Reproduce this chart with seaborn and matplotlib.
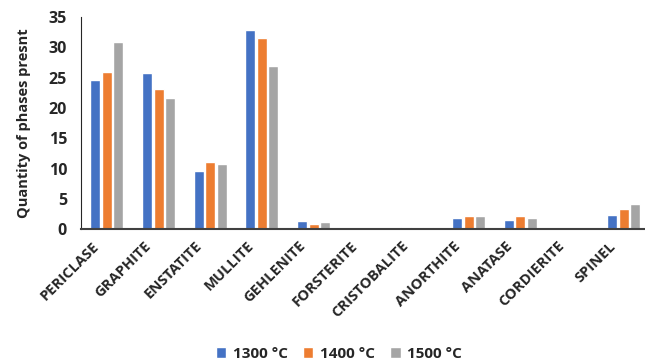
import numpy as np
import pandas as pd
import matplotlib
matplotlib.use("Agg")
import matplotlib.pyplot as plt
import matplotlib.transforms as mtransforms
import seaborn as sns

phases = ["PERICLASE", "GRAPHITE", "ENSTATITE", "MULLITE", "GEHLENITE", "FORSTERITE",
          "CRISTOBALITE", "ANORTHITE", "ANATASE", "CORDIERITE", "SPINEL"]
temps = ["1300 °C", "1400 °C", "1500 °C"]
vals_1300 = [24.6, 25.7, 9.6, 32.8, 1.3, 0.0, 0.3, 1.8, 1.5, 0.0, 2.3]
vals_1400 = [26.0, 23.2, 11.1, 31.6, 0.8, 0.0, 0.0, 2.1, 2.1, 0.0, 3.3]
vals_1500 = [30.9, 21.7, 10.8, 26.9, 1.2, 0.0, 0.4, 2.1, 1.8, 0.0, 4.1]
colors = ["#4472C4", "#ED7D31", "#A5A5A5"]

df = pd.DataFrame({
    "phase": phases * 3,
    "temp": [temps[0]] * 11 + [temps[1]] * 11 + [temps[2]] * 11,
    "value": vals_1300 + vals_1400 + vals_1500,
})

sns.set_style("white")
plt.rcParams["font.family"] = ["Open Sans", "DejaVu Sans"]

fig = plt.figure(figsize=(6.45, 3.62), dpi=100)
ax = fig.add_axes([0.1256, 0.367, 0.874, 0.586])

sns.barplot(data=df, x="phase", y="value", hue="temp", palette=colors,
            width=0.66, gap=0.12, ax=ax, saturation=1)

ax.set_ylim(0, 35)
ax.set_xlim(-0.5, 10.41)
ax.set_yticks(range(0, 36, 5))
ax.set_xlabel("")
ax.set_ylabel("Quantity of phases presnt", fontsize=10.5, fontweight="bold", labelpad=13)
ax.tick_params(axis="y", labelsize=11.5, length=0, pad=10)
ax.tick_params(axis="x", labelsize=10.5, length=0, pad=4)
for lbl in ax.get_yticklabels():
    lbl.set_fontweight("bold")
offset = mtransforms.ScaledTranslation(-11 / 72, -3 / 72, fig.dpi_scale_trans)
for lbl in ax.get_xticklabels():
    lbl.set_rotation(45)
    lbl.set_ha("right")
    lbl.set_rotation_mode("anchor")
    lbl.set_fontweight("bold")
    lbl.set_transform(lbl.get_transform() + offset)

for side in ["top", "right"]:
    ax.spines[side].set_visible(False)
ax.spines["left"].set_color("#262626")
ax.spines["bottom"].set_color("#404040")
ax.spines["bottom"].set_linewidth(1.5)

handles, labels = ax.get_legend_handles_labels()
ax.legend_.remove()
fig.legend(handles, labels, loc="lower center", bbox_to_anchor=(0.525, -0.035), ncol=3,
           frameon=False, handlelength=0.7, handleheight=0.7, columnspacing=1.0,
           handletextpad=0.4, prop={"size": 11, "weight": "bold"})

fig.savefig("out.png", dpi=100)
